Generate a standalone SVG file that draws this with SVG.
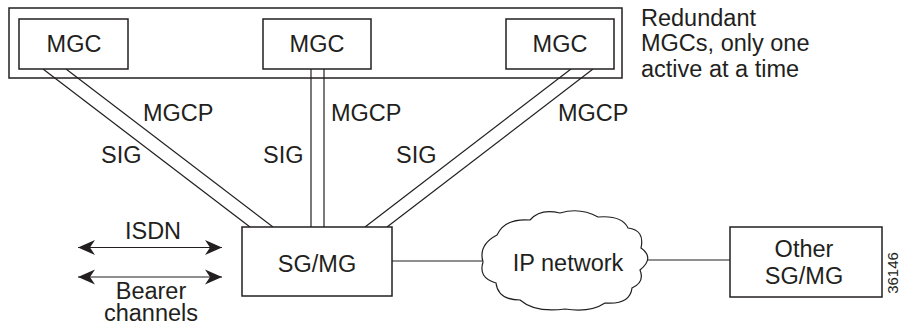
<svg xmlns="http://www.w3.org/2000/svg" width="901" height="327" viewBox="0 0 901 327">
<defs>
<style>
.box{fill:#fff;stroke:#231f20;stroke-width:1.5}
.ln{fill:none;stroke:#231f20;stroke-width:1.2}
text{font-family:"Liberation Sans",Arial,sans-serif;font-size:23.5px;fill:#231f20}
.c{text-anchor:middle}
</style>
<marker id="ah" viewBox="-19 -8 20 16" refX="0" refY="0" markerWidth="20" markerHeight="16" markerUnits="userSpaceOnUse" orient="auto-start-reverse">
<path d="M0,0 L-17,-7.5 L-12,0 L-17,7.5 Z" fill="#231f20"/>
</marker>
</defs>
<rect width="901" height="327" fill="#fff"/>
<g id="mgc-group">
<rect class="box" x="9" y="8" width="613" height="70"/>
</g>
<g id="connectors">
<line class="ln" x1="43" y1="69" x2="250" y2="227"/>
<line class="ln" x1="66" y1="69" x2="273" y2="227"/>
<line class="ln" x1="311" y1="69" x2="311" y2="227"/>
<line class="ln" x1="324" y1="69" x2="324" y2="227"/>
<line class="ln" x1="571" y1="69" x2="365" y2="227"/>
<line class="ln" x1="593" y1="69" x2="387" y2="227"/>
<line class="ln" x1="392" y1="261" x2="482" y2="261"/>
<line class="ln" x1="648" y1="260" x2="730" y2="260"/>
<line class="ln" x1="78" y1="247.5" x2="222" y2="247.5" marker-start="url(#ah)" marker-end="url(#ah)"/>
<line class="ln" x1="78" y1="277" x2="222" y2="277" marker-start="url(#ah)" marker-end="url(#ah)"/>
</g>
<g id="mgc1">
<rect class="box" x="19" y="19" width="109" height="50"/>
<text class="c" x="74" y="52">MGC</text>
</g>
<g id="mgc2">
<rect class="box" x="263" y="19" width="108" height="50"/>
<text class="c" x="317" y="52">MGC</text>
</g>
<g id="mgc3">
<rect class="box" x="506" y="19" width="108" height="50"/>
<text class="c" x="560" y="52">MGC</text>
</g>
<g id="note">
<text x="641" y="26">Redundant</text>
<text x="641" y="51">MGCs, only one</text>
<text x="641" y="77">active at a time</text>
</g>
<g id="labels">
<text x="143" y="121">MGCP</text>
<text x="101" y="163">SIG</text>
<text x="331" y="121">MGCP</text>
<text x="263" y="163">SIG</text>
<text x="558" y="121">MGCP</text>
<text x="396" y="163">SIG</text>
<text class="c" x="153" y="239">ISDN</text>
<text class="c" x="151" y="299">Bearer</text>
<text class="c" x="151" y="321">channels</text>
</g>
<g id="sgmg">
<rect class="box" x="242" y="227" width="150" height="69"/>
<text class="c" x="317" y="272">SG/MG</text>
</g>
<g id="ip-network">
<path class="ln" d="M497,235 Q478,245 483,262 Q478,278 496,283 Q498,300 520,300 Q535,313 565,309 Q590,313 605,303 Q630,305 632,288 Q645,282 640,270 Q655,258 641,248 Q645,230 628,228 Q622,215 598,217 Q580,207 560,213 Q540,208 530,220 Q505,218 497,235 Z" fill="#fff"/>
<text class="c" x="568" y="271">IP network</text>
</g>
<g id="other-sgmg">
<rect class="box" x="730" y="227" width="152" height="70"/>
<text class="c" x="804" y="257">Other</text>
<text class="c" x="804" y="284">SG/MG</text>
</g>
<text x="898" y="273" transform="rotate(-90 898 273)" style="font-size:15px" text-anchor="middle">36146</text>
</svg>
